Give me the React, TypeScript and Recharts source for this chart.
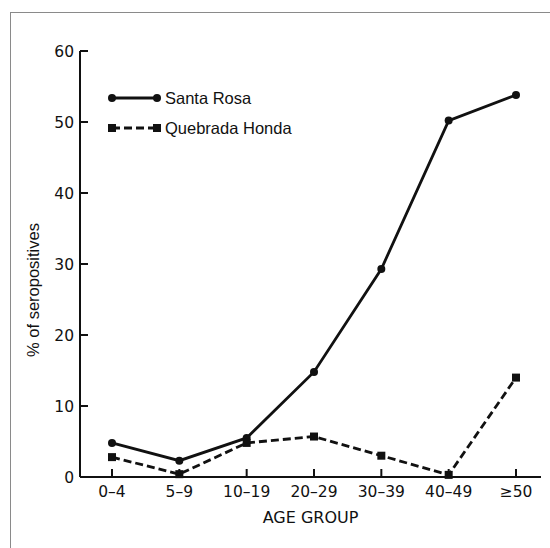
import React from 'react';
import { LineChart, Line, XAxis, YAxis } from 'recharts';

const ageGroups = ['0–4', '5–9', '10–19', '20–29', '30–39', '40–49', '≥50'];
const santaRosa = [4.8, 2.3, 5.5, 14.8, 29.3, 50.2, 53.8];
const quebradaHonda = [2.8, 0.4, 4.8, 5.7, 3.0, 0.3, 14.0];
const yTicks = [0, 10, 20, 30, 40, 50, 60];
const seriesNames = ['Santa Rosa', 'Quebrada Honda'];

const data = ageGroups.map((g, i) => ({ group: g, sr: santaRosa[i], qh: quebradaHonda[i] }));

const INK = '#111';
const TICK_FONT = '"DejaVu Sans", sans-serif';
const LEG_FONT = '"Liberation Sans", Arial, sans-serif';

const XTick = (props: any) => {
  const { x, y, payload } = props;
  return (
    <g>
      <line x1={x} x2={x} y1={y} y2={y - 8} stroke={INK} strokeWidth={2} />
      <text x={x} y={y + 20} textAnchor="middle" fontFamily={TICK_FONT} fontSize={15.5} fill={INK}>
        {payload.value}
      </text>
    </g>
  );
};

const YTick = (props: any) => {
  const { x, y, payload } = props;
  return (
    <g>
      <line x1={x} x2={x + 8} y1={y} y2={y} stroke={INK} strokeWidth={2} />
      <text x={x - 6} y={y + 6} textAnchor="end" fontFamily={TICK_FONT} fontSize={15.5} fill={INK}>
        {payload.value}
      </text>
    </g>
  );
};

const Dot = (props: any) => {
  const { cx, cy } = props;
  if (cx == null || cy == null) return null;
  return <circle cx={cx} cy={cy} r={4} fill={INK} />;
};

const Square = (props: any) => {
  const { cx, cy } = props;
  if (cx == null || cy == null) return null;
  return <rect x={cx - 4} y={cy - 4} width={8} height={8} fill={INK} />;
};

const LegendBox = () => (
  <svg width={240} height={56} style={{ position: 'absolute', left: 100, top: 85 }}>
    <line x1={12} x2={57} y1={13} y2={13} stroke={INK} strokeWidth={2.8} />
    <circle cx={12} cy={13} r={4} fill={INK} />
    <circle cx={57} cy={13} r={4} fill={INK} />
    <text x={65} y={19} fontFamily={LEG_FONT} fontSize={16.5} fill={INK}>
      {seriesNames[0]}
    </text>
    <line x1={12} x2={57} y1={43} y2={43} stroke={INK} strokeWidth={2.8} strokeDasharray="8 4" />
    <rect x={8} y={39} width={8} height={8} fill={INK} />
    <rect x={53} y={39} width={8} height={8} fill={INK} />
    <text x={65} y={49} fontFamily={LEG_FONT} fontSize={16.5} fill={INK}>
      {seriesNames[1]}
    </text>
  </svg>
);

const YLabel = (props: any) => {
  const { viewBox } = props;
  const x = viewBox.x + 23;
  const y = 290;
  return (
    <text
      x={x}
      y={y}
      transform={`rotate(-90 ${x} ${y})`}
      textAnchor="middle"
      dominantBaseline="central"
      fontFamily={LEG_FONT}
      fontSize={16.5}
      fill={INK}
    >
      % of seropositives
    </text>
  );
};

export default function App() {
  return (
    <div style={{ position: 'absolute', left: 0, top: 0, width: 550, height: 548, background: '#fff' }}>
      <div
        style={{
          position: 'absolute',
          left: 10,
          top: 12,
          width: 540,
          height: 536,
          borderLeft: '1.5px solid #8a8a8a',
          borderTop: '1.5px solid #8a8a8a',
          boxSizing: 'border-box',
        }}
      />
      <div style={{ position: 'absolute', left: 0, top: 0 }}>
        <LineChart
          width={550}
          height={548}
          data={data}
          margin={{ top: 51, right: 9, bottom: 41, left: 10 }}
        >
          <XAxis
            dataKey="group"
            type="category"
            scale="point"
            padding={{ left: 32, right: 25 }}
            tickSize={0}
            tickMargin={0}
            tickLine={false}
            axisLine={{ stroke: INK, strokeWidth: 2 }}
            tick={<XTick />}
            interval={0}
            height={30}
            label={{
              value: 'AGE GROUP',
              position: 'insideBottom',
              offset: -16,
              fontFamily: TICK_FONT,
              fontSize: 16,
              fill: INK,
            }}
          />
          <YAxis
            type="number"
            domain={[0, 60]}
            ticks={yTicks}
            width={70}
            tickSize={0}
            tickMargin={0}
            tickLine={false}
            axisLine={{ stroke: INK, strokeWidth: 2 }}
            tick={<YTick />}
            interval={0}
            label={<YLabel />}
          />
          <Line
            dataKey="sr"
            name={seriesNames[0]}
            stroke={INK}
            strokeWidth={2.8}
            dot={<Dot />}
            activeDot={false}
            isAnimationActive={false}
            type="linear"
          />
          <Line
            dataKey="qh"
            name={seriesNames[1]}
            stroke={INK}
            strokeWidth={2.8}
            strokeDasharray="8 4"
            dot={<Square />}
            activeDot={false}
            isAnimationActive={false}
            type="linear"
          />
        </LineChart>
      </div>
      <LegendBox />
    </div>
  );
}
